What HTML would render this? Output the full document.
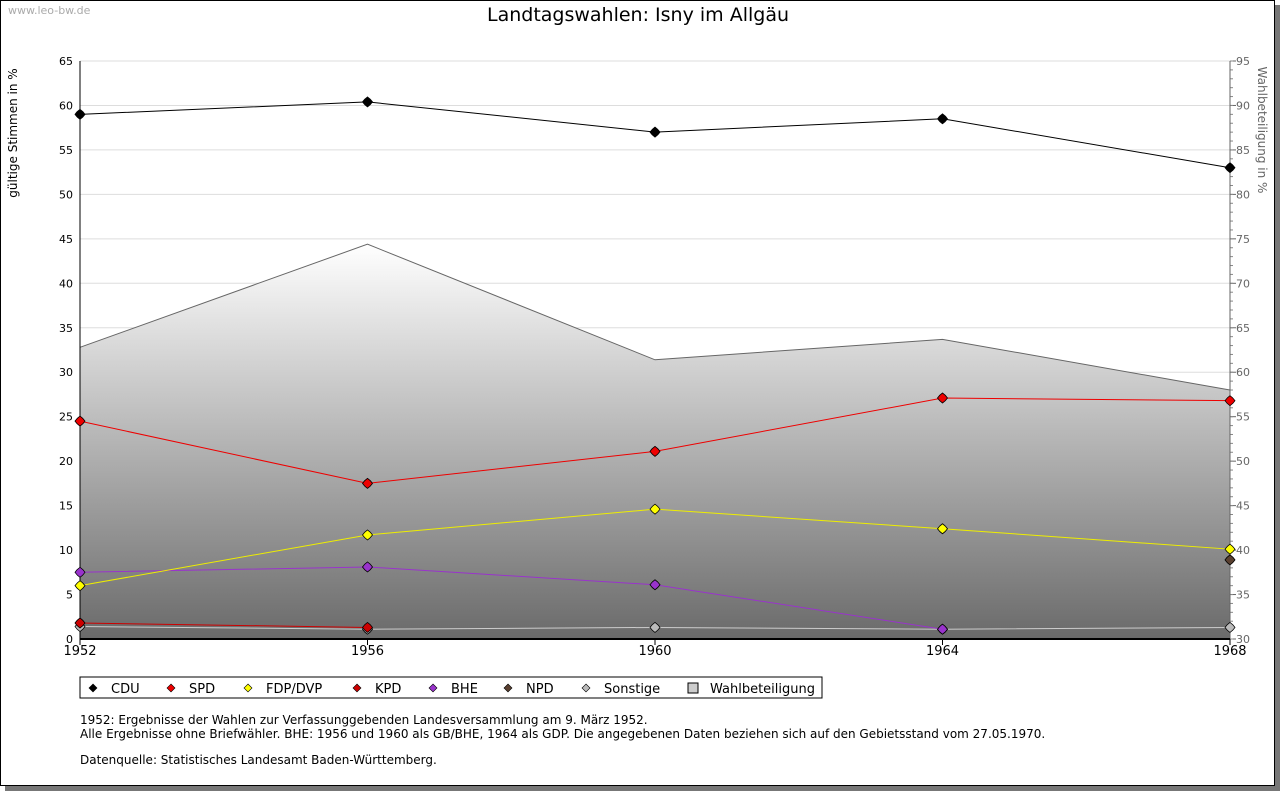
<!DOCTYPE html>
<html><head><meta charset="utf-8"><style>
body{margin:0;background:#fff;width:1280px;height:791px;overflow:hidden;font-family:"DejaVu Sans",sans-serif}
#frame{position:absolute;left:0;top:0;width:1273px;height:784px;border:1px solid #000;box-shadow:5px 5px 0 #777;background:#fff}
</style></head><body>
<div id="frame"></div>
<svg id="c" width="1280" height="791" style="position:absolute;left:0;top:0" font-family="DejaVu Sans, sans-serif">
<defs><linearGradient id="ag" x1="0" y1="244" x2="0" y2="639" gradientUnits="userSpaceOnUse"><stop offset="0" stop-color="#ffffff"/><stop offset="1" stop-color="#6a6a6a"/></linearGradient></defs>
<text x="8" y="14" font-size="11" fill="#aaa">www.leo-bw.de</text>
<text x="638" y="21" font-size="19" text-anchor="middle">Landtagswahlen: Isny im Allgäu</text>
<text transform="translate(17,133) rotate(-90)" font-size="12" text-anchor="middle">gültige Stimmen in %</text>
<text transform="translate(1258,130) rotate(90)" font-size="12" fill="#666" text-anchor="middle">Wahlbeteiligung in %</text>
<g id="grid"></g><g id="area"></g><g id="axes"></g><g id="series"></g>
<rect x="80" y="677" width="742" height="21" fill="#fff" stroke="#000"/>
<g id="legend"></g>
<text font-size="12"><tspan x="80" y="724">1952: Ergebnisse der Wahlen zur Verfassunggebenden Landesversammlung am 9. März 1952.</tspan><tspan x="80" y="738">Alle Ergebnisse ohne Briefwähler. BHE: 1956 und 1960 als GB/BHE, 1964 als GDP. Die angegebenen Daten beziehen sich auf den Gebietsstand vom 27.05.1970.</tspan><tspan x="80" y="764">Datenquelle: Statistisches Landesamt Baden-Württemberg.</tspan></text>
</svg>
<script>
const years=[1952,1956,1960,1964,1968];
const leftTicks=[0,5,10,15,20,25,30,35,40,45,50,55,60,65];
const rightTicks=[30,35,40,45,50,55,60,65,70,75,80,85,90,95];
const turnout=[62.8,74.4,61.4,63.7,58.0];
const cdu=[59.0,60.4,57.0,58.5,53.0];
const spd=[24.5,17.5,21.1,27.1,26.8];
const fdp=[6.0,11.7,14.6,12.4,10.1];
const kpd=[1.8,1.3,null,null,null];
const bhe=[7.5,8.1,6.1,1.1,null];
const npd=[null,null,null,null,8.9];
const sonst=[1.4,1.1,1.3,1.1,1.3];
const NS='http://www.w3.org/2000/svg';
const X0=80,X1=1230,Y0=639,Y1=61;
const xs=y=>X0+(y-1952)/(1968-1952)*(X1-X0);
const yl=v=>Y0-v/65*(Y0-Y1);
const yr=v=>Y0-(v-30)/65*(Y0-Y1);
function mk(t,a,p){const e=document.createElementNS(NS,t);for(const k in a)e.setAttribute(k,a[k]);p.appendChild(e);return e;}
const G=document.getElementById('grid'),A=document.getElementById('axes'),S=document.getElementById('series'),L=document.getElementById('legend'),AR=document.getElementById('area');
leftTicks.forEach(v=>{const l=mk('line',{x1:X0,x2:X1,y1:yl(v),y2:yl(v),stroke:'#ddd'},G);

const t=mk('text',{x:X0-7,y:yl(v)+4,'font-size':11,'text-anchor':'end'},A);t.textContent=v;
});
rightTicks.forEach(v=>{const t=mk('text',{x:X1+6,y:yr(v)+4,'font-size':11,fill:'#666'},A);t.textContent=v;

mk('line',{x1:X1,x2:X1+6,y1:yr(v),y2:yr(v),stroke:'#666'},A);});
for(let v=30;v<=95;v++)mk('line',{x1:X1,x2:X1+3,y1:yr(v),y2:yr(v),stroke:'#888'},A);
let d='M'+xs(years[0])+','+Y0;years.forEach((y,i)=>d+=' L'+xs(y)+','+yr(turnout[i]));d+=' L'+xs(1968)+','+Y0+' Z';
const ar=mk('path',{d:d,fill:'url(#ag)'},AR);
const tl=mk('polyline',{points:years.map((y,i)=>xs(y)+','+yr(turnout[i])).join(' '),fill:'none',stroke:'#666'},AR);

mk('line',{x1:X0,x2:X0,y1:Y1,y2:Y0,stroke:'#000'},A);
mk('line',{x1:X1,x2:X1,y1:Y1,y2:Y0,stroke:'#666'},A);
mk('line',{x1:X0,x2:X1,y1:Y0,y2:Y0,stroke:'#000','stroke-width':2},A);
years.forEach(y=>{mk('line',{x1:xs(y),x2:xs(y),y1:Y0,y2:Y0+6,stroke:'#000'},A);
const t=mk('text',{x:xs(y),y:Y0+16,'font-size':13,'text-anchor':'middle'},A);t.textContent=y;
});
function series(name,vals,col,mcol){let pts=[];vals.forEach((v,i)=>{if(v!=null)pts.push([xs(years[i]),yl(v)]);});
if(pts.length>1){const p=mk('polyline',{points:pts.map(p=>p.join(',')).join(' '),fill:'none',stroke:col},S);
}
pts.forEach(p=>{const m=mk('path',{d:`M${p[0]},${p[1]-5} Q${p[0]+3},${p[1]-3} ${p[0]+5},${p[1]} Q${p[0]+3},${p[1]+3} ${p[0]},${p[1]+5} Q${p[0]-3},${p[1]+3} ${p[0]-5},${p[1]} Q${p[0]-3},${p[1]-3} ${p[0]},${p[1]-5} Z`,fill:mcol,stroke:'#000','stroke-width':0.8},S);
});}
series('sonstige',sonst,'#ccc','#bbb');
series('kpd',kpd,'#c00','#c00');
series('npd',npd,'#5a4030','#5a4030');
series('bhe',bhe,'#9933cc','#9933cc');
series('fdp',fdp,'#ee0','#ff0');
series('spd',spd,'#e00','#e00');
series('cdu',cdu,'#000','#000');
const leg=[['CDU','#000',93],['SPD','#e00',171],['FDP/DVP','#ff0',248],['KPD','#c00',357],['BHE','#9933cc',433],['NPD','#5a4030',508],['Sonstige','#bbb',586]];
leg.forEach(l=>{const x=l[2],y=688;const m=mk('path',{d:`M${x},${y-4} L${x+4},${y} L${x},${y+4} L${x-4},${y} Z`,fill:l[1],stroke:'#000','stroke-width':0.6},L);

const t=mk('text',{x:x+18,y:y+5,'font-size':13},L);t.textContent=l[0];});
const r=mk('rect',{x:688,y:683,width:10,height:10,fill:'#ccc',stroke:'#000'},L);
const t2=mk('text',{x:710,y:693,'font-size':13},L);t2.textContent='Wahlbeteiligung';
</script>
</body></html>
